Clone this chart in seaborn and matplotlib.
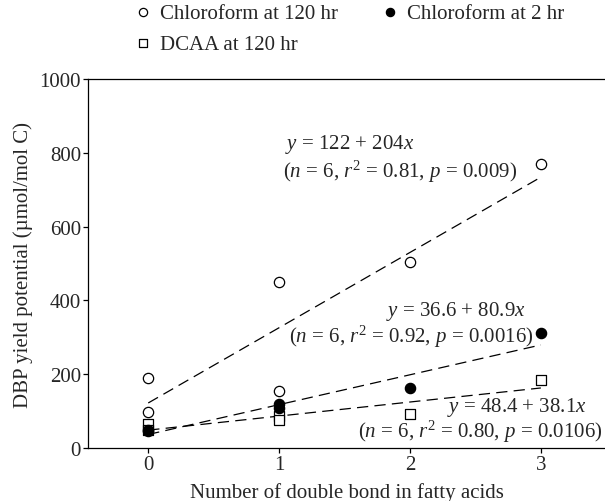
import matplotlib
matplotlib.use("Agg")
import matplotlib.pyplot as plt
import seaborn as sns
import numpy as np
import pandas as pd

# Data
chl120_x = [0, 0, 1, 1, 2, 3]
chl120_y = [190, 98, 450, 155, 505, 770]
chl2_x = [0, 0, 1, 1, 2, 3]
chl2_y = [45, 48, 120, 108, 163, 312]
dcaa_x = [0, 0, 1, 1, 2, 3]
dcaa_y = [65, 48, 88, 75, 92, 185]

# Regression equations (intercept, slope)
fit_intercepts = [122, 36.6, 48.4]
fit_slopes = [204, 80.9, 38.1]

sns.set_style("ticks")
plt.rcParams['font.family'] = ['Liberation Serif', 'DejaVu Serif']
plt.rcParams['mathtext.fontset'] = 'custom'
plt.rcParams['mathtext.rm'] = 'Liberation Serif'
plt.rcParams['mathtext.it'] = 'Liberation Serif:italic'

fig = plt.figure(figsize=(6.05, 5.02), dpi=100)
ax = fig.add_axes([0.1455, 0.1056, 0.8545, 0.735])

df1 = pd.DataFrame({"x": chl120_x, "y": chl120_y})
df2 = pd.DataFrame({"x": chl2_x, "y": chl2_y})
df3 = pd.DataFrame({"x": dcaa_x, "y": dcaa_y})

sns.scatterplot(data=df1, x="x", y="y", ax=ax, marker="o", s=55,
                facecolor="white", edgecolor="black", linewidth=0.9,
                label="Chloroform at 120 hr", zorder=3)
sns.scatterplot(data=df3, x="x", y="y", ax=ax, marker="s", s=50,
                facecolor="white", edgecolor="black", linewidth=0.9,
                label="DCAA at 120 hr", zorder=3)
sns.scatterplot(data=df2, x="x", y="y", ax=ax, marker="o", s=55,
                facecolor="black", edgecolor="black", linewidth=0.9,
                label="Chloroform at 2 hr", zorder=4)

xs = np.array([0, 3])
for b0, b1 in zip(fit_intercepts, fit_slopes):
    ax.plot(xs, b0 + b1 * xs, color="black", lw=0.9, dashes=(9, 5), zorder=2)

fs = 15
ax.text(1.046, 824, r"$y$ = 122 + 204$x$", fontsize=fs, va="center", ha="left")
ax.text(1.03, 752, r"($n$ = 6, $r^2$ = 0.81, $p$ = 0.009)", fontsize=fs, va="center", ha="left")
ax.text(1.82, 373, r"$y$ = 36.6 + 80.9$x$", fontsize=fs, va="center", ha="left")
ax.text(2.94, 305, r"($n$ = 6, $r^2$ = 0.92, $p$ = 0.0016)", fontsize=fs, va="center", ha="right")
ax.text(2.28, 113, r"$y$ = 48.4 + 38.1$x$", fontsize=fs, va="center", ha="left")
ax.text(3.47, 45, r"($n$ = 6, $r^2$ = 0.80, $p$ = 0.0106)", fontsize=fs, va="center", ha="right")

ax.set_xlim(-0.46, 3.49)
ax.set_ylim(0, 1000)
ax.set_xticks([0, 1, 2, 3])
ax.set_yticks([0, 200, 400, 600, 800, 1000])
ax.tick_params(labelsize=fs, direction="out", length=3.5, width=0.9, color="black", pad=1.5)
for s in ["left", "bottom", "top"]:
    ax.spines[s].set_linewidth(0.9)
    ax.spines[s].set_color("black")
ax.spines["right"].set_visible(False)
ax.set_xlabel("Number of double bond in fatty acids", fontsize=fs, labelpad=6)
ax.set_ylabel("DBP yield potential (µmol/mol C)", fontsize=fs, labelpad=5)

ax.legend(ncol=2, loc="upper left", bbox_to_anchor=(0.067, 1.228), frameon=False,
          fontsize=fs, handletextpad=0.2, columnspacing=1.9, markerscale=0.8,
          borderaxespad=0.0, labelspacing=0.55, handlelength=1.2)

fig.savefig("out.png", dpi=100)
